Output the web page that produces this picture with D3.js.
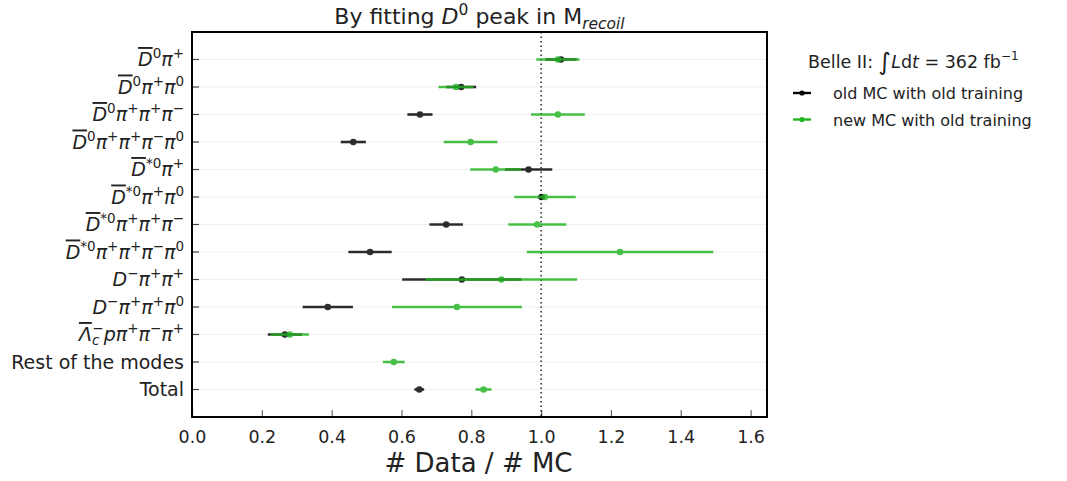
<!DOCTYPE html>
<html>
<head>
<meta charset="utf-8">
<script src="https://cdn.jsdelivr.net/npm/d3@7"></script>
<style>
  body { margin: 0; background: #fff; }
  text { font-family: "DejaVu Sans", sans-serif; }
  .bar { text-decoration: overline; }
</style>
</head>
<body>
<div class="chart"></div>
<script>
// decay modes, top to bottom (label markup: [text, kind])
const modes = [
  [["D", "bar"], ["0", "sup"], ["π", "it"], ["+", "sup"]],
  [["D", "bar"], ["0", "sup"], ["π", "it"], ["+", "sup"], ["π", "it"], ["0", "sup"]],
  [["D", "bar"], ["0", "sup"], ["π", "it"], ["+", "sup"], ["π", "it"], ["+", "sup"], ["π", "it"], ["−", "sup"]],
  [["D", "bar"], ["0", "sup"], ["π", "it"], ["+", "sup"], ["π", "it"], ["+", "sup"], ["π", "it"], ["−", "sup"], ["π", "it"], ["0", "sup"]],
  [["D", "bar"], ["*0", "sup"], ["π", "it"], ["+", "sup"]],
  [["D", "bar"], ["*0", "sup"], ["π", "it"], ["+", "sup"], ["π", "it"], ["0", "sup"]],
  [["D", "bar"], ["*0", "sup"], ["π", "it"], ["+", "sup"], ["π", "it"], ["+", "sup"], ["π", "it"], ["−", "sup"]],
  [["D", "bar"], ["*0", "sup"], ["π", "it"], ["+", "sup"], ["π", "it"], ["+", "sup"], ["π", "it"], ["−", "sup"], ["π", "it"], ["0", "sup"]],
  [["D", "it"], ["−", "sup"], ["π", "it"], ["+", "sup"], ["π", "it"], ["+", "sup"]],
  [["D", "it"], ["−", "sup"], ["π", "it"], ["+", "sup"], ["π", "it"], ["+", "sup"], ["π", "it"], ["0", "sup"]],
  [["Λ", "bar"], ["c", "sub"], ["−", "supback"], ["pπ", "it"], ["+", "sup"], ["π", "it"], ["−", "sup"], ["π", "it"], ["+", "sup"]],
  [["Rest of the modes", "rm"]],
  [["Total", "rm"]]
];

// old MC with old training (null = not shown)
const oldVal = [1.057, 0.771, 0.653, 0.462, 0.964, 1.001, 0.728, 0.510, 0.773, 0.389, 0.266, null, 0.651];
const oldErr = [0.045, 0.043, 0.036, 0.036, 0.068, 0.010, 0.048, 0.062, 0.171, 0.072, 0.049, null, 0.014];
// new MC with old training
const newVal = [1.048, 0.756, 1.048, 0.798, 0.870, 1.011, 0.989, 1.226, 0.886, 0.759, 0.280, 0.578, 0.835];
const newErr = [0.062, 0.050, 0.077, 0.077, 0.073, 0.088, 0.083, 0.267, 0.217, 0.186, 0.055, 0.031, 0.023];

const xTicks = [0.0, 0.2, 0.4, 0.6, 0.8, 1.0, 1.2, 1.4, 1.6];

const series = [
  { name: "old MC with old training", color: "#000000", val: oldVal, err: oldErr },
  { name: "new MC with old training", color: "#22b422", val: newVal, err: newErr }
];

const width = 1067, height = 481;
const mLeft = 192, mRight = 767, mTop = 32, mBottom = 417;

const svg = d3.select(".chart").append("svg")
  .attr("width", width)
  .attr("height", height);

const x = d3.scaleLinear().domain([0, 1.647]).range([mLeft, mRight]);
const y = d3.scalePoint().domain(d3.range(modes.length)).range([mTop, mBottom]).padding(1);

// grid lines
svg.append("g")
  .selectAll("line")
  .data(d3.range(modes.length))
  .join("line")
  .attr("x1", mLeft).attr("x2", mRight)
  .attr("y1", d => y(d)).attr("y2", d => y(d))
  .attr("stroke", "#efefef")
  .attr("stroke-width", 1.2);

// x axis
const xAxis = svg.append("g")
  .attr("transform", `translate(0,${mBottom})`)
  .call(d3.axisBottom(x).tickValues(xTicks).tickFormat(d3.format(".1f")).tickSizeInner(-7).tickSizeOuter(0).tickPadding(14));
xAxis.select(".domain").remove();
xAxis.selectAll(".tick line").attr("stroke", "#666").attr("stroke-width", 1.2);
xAxis.selectAll(".tick text").attr("font-size", 17.5).attr("fill", "#222").style("font-family", "DejaVu Sans");

// y ticks
svg.append("g")
  .selectAll("line")
  .data(d3.range(modes.length))
  .join("line")
  .attr("x1", mLeft).attr("x2", mLeft + 7)
  .attr("y1", d => y(d)).attr("y2", d => y(d))
  .attr("stroke", "#444")
  .attr("stroke-width", 1.2);

// y labels with mathtext-like markup
const labels = svg.append("g");
modes.forEach((tokens, i) => {
  const t = labels.append("text")
    .attr("x", mLeft - 8)
    .attr("y", y(i) + 6.5)
    .attr("text-anchor", "end")
    .attr("font-size", 19)
    .attr("fill", "#222");
  let shift = 0;
  tokens.forEach(([s, kind]) => {
    const sp = t.append("tspan").text(s);
    let target = 0;
    if (kind === "sup" || kind === "supback") { target = -8; sp.attr("font-size", 13.5); }
    if (kind === "sub") { target = 4; sp.attr("font-size", 13.5); }
    if (kind === "it" || kind === "bar") sp.attr("font-style", "italic");
    if (kind === "sub") sp.attr("font-style", "italic");
    if (kind === "bar") sp.attr("class", "bar");
    if (kind === "supback") sp.attr("dx", -7);
    if (target !== shift) sp.attr("dy", target - shift);
    shift = target;
  });
});

// reference line at 1
svg.append("line")
  .attr("x1", x(1)).attr("x2", x(1))
  .attr("y1", mTop).attr("y2", mBottom)
  .attr("stroke", "#000")
  .attr("stroke-width", 1.3)
  .attr("stroke-dasharray", "1.5,3");

// error bars + points
series.forEach(s => {
  const rows = d3.range(modes.length).filter(i => s.val[i] !== null);
  const g = svg.append("g").attr("opacity", 0.82);
  g.selectAll("line")
    .data(rows)
    .join("line")
    .attr("x1", i => x(s.val[i] - s.err[i]))
    .attr("x2", i => x(s.val[i] + s.err[i]))
    .attr("y1", i => y(i)).attr("y2", i => y(i))
    .attr("stroke", s.color)
    .attr("stroke-width", 2.6);
  g.selectAll("circle")
    .data(rows)
    .join("circle")
    .attr("cx", i => x(s.val[i]))
    .attr("cy", i => y(i))
    .attr("r", 3.3)
    .attr("fill", s.color);
});

// frame
svg.append("rect")
  .attr("x", mLeft).attr("y", mTop)
  .attr("width", mRight - mLeft).attr("height", mBottom - mTop)
  .attr("fill", "none")
  .attr("stroke", "#000")
  .attr("stroke-width", 2);

// title
const title = svg.append("text")
  .attr("x", (mLeft + mRight) / 2)
  .attr("y", 24)
  .attr("text-anchor", "middle")
  .attr("font-size", 22)
  .attr("fill", "#222");
title.append("tspan").text("By fitting ");
title.append("tspan").text("D").attr("font-style", "italic");
title.append("tspan").text("0").attr("font-size", 15.5).attr("dy", -9);
title.append("tspan").text(" peak in M").attr("dy", 9);
title.append("tspan").text("recoil").attr("font-size", 15.5).attr("font-style", "italic").attr("dy", 5);

// x label
svg.append("text")
  .attr("x", (mLeft + mRight) / 2 - 1)
  .attr("y", 472)
  .attr("text-anchor", "middle")
  .attr("font-size", 26)
  .attr("fill", "#222")
  .text("# Data / # MC");

// legend
const lg = svg.append("g");
const lt = lg.append("text")
  .attr("x", 808).attr("y", 68)
  .attr("font-size", 17.5)
  .attr("fill", "#222");
lt.append("tspan").text("Belle II: ");
lt.append("tspan").text("∫").attr("font-size", 24).attr("font-style", "italic").attr("dy", 2);
lt.append("tspan").text("L").attr("font-style", "italic").attr("dy", -2);
lt.append("tspan").text("d");
lt.append("tspan").text("t").attr("font-style", "italic");
lt.append("tspan").text(" = 362 fb");
lt.append("tspan").text("−1").attr("font-size", 12).attr("dy", -8);

series.forEach((s, k) => {
  const yy = 93 + k * 26.5;
  lg.append("line")
    .attr("x1", 793).attr("x2", 811)
    .attr("y1", yy).attr("y2", yy)
    .attr("stroke", s.color).attr("stroke-width", 2.4);
  lg.append("circle")
    .attr("cx", 802).attr("cy", yy).attr("r", 2.6)
    .attr("fill", s.color);
  lg.append("text")
    .attr("x", 833).attr("y", yy + 6)
    .attr("font-size", 16)
    .attr("fill", "#222")
    .text(s.name);
});
</script>
</body>
</html>
